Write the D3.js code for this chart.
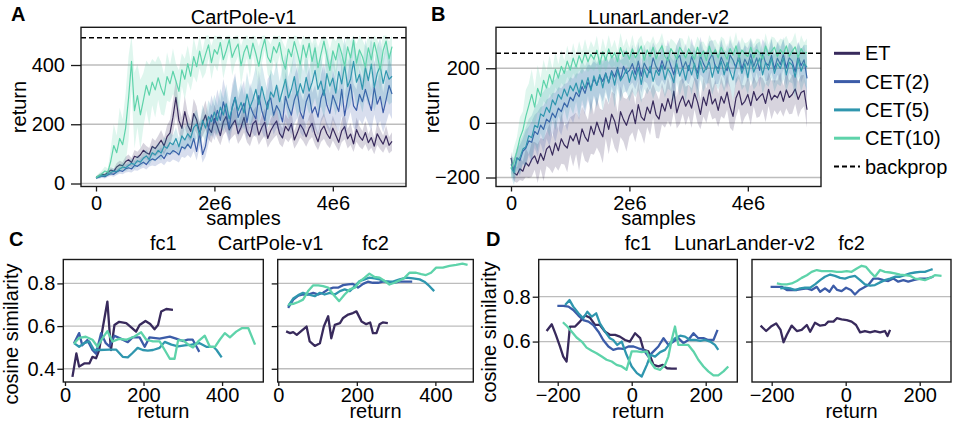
<!DOCTYPE html>
<html>
<head>
<meta charset="utf-8">
<script src="https://cdn.jsdelivr.net/npm/d3@7"></script>
<style>
  body { margin: 0; background: #fff; }
  svg text { font-family: "Liberation Sans", Arial, Helvetica, sans-serif; fill: #000; }
</style>
</head>
<body>
<svg id="fig" width="953" height="421"></svg>
<script>
// ---------- data ----------
const methods = ["ET", "CET(2)", "CET(5)", "CET(10)"];
const sampleStep = 50000; // samples between logged evaluations

// CartPole-v1: mean return per evaluation and spread across seeds
const cartpoleET = [20,26,31,29,38,45,41,56,63,60,74,
 80,71,92,88,97,112,104,99,125,118,
 131,146,127,158,171,224,291,213,186,243,
 197,176,236,215,168,204,231,188,172,219,
 193,162,208,227,181,199,214,168,190,223,
 176,158,201,212,164,189,207,152,178,196,
 211,169,154,193,178,202,147,171,199,183,
 158,187,203,166,141,179,194,168,152,187,
 163,139,178,192,151,167,134,182,159,146,
 172,138,155,126,168,149,133,161,129,142];
const cartpoleCET2 = [18,21,25,23,29,33,31,39,44,41,50,
 53,49,61,58,66,72,64,77,83,79,
 88,96,84,103,99,111,106,97,124,118,
 133,119,152,108,171,98,126,187,232,204,
 247,213,276,238,186,259,291,223,248,271,
 206,264,237,218,297,246,212,275,289,231,
 263,245,208,294,257,231,282,309,241,219,
 276,302,238,259,224,287,316,264,237,298,
 271,243,318,229,286,335,262,247,301,276,
 318,282,247,325,268,294,239,283,331,302];
const cartpoleCET5 = [20,23,27,26,33,37,42,40,49,56,53,
 61,68,64,77,72,85,93,81,104,97,
 112,103,126,119,138,131,152,124,161,147,
 168,154,189,201,163,214,187,226,209,241,
 212,258,231,269,218,253,291,246,274,238,
 302,257,283,318,266,327,284,251,309,292,
 331,276,314,352,289,318,361,297,337,305,
 358,312,341,382,318,346,297,371,329,356,
 305,378,336,399,327,353,412,342,368,318,
 391,347,403,324,372,396,338,381,352,362];
const cartpoleCET10 = [20,27,33,42,38,76,128,104,152,131,187,
 288,412,246,297,232,281,331,298,342,316,
 357,322,298,361,337,379,346,311,384,352,
 405,362,428,394,447,401,436,468,408,452,
 437,476,418,449,486,426,452,471,398,443,
 466,421,474,438,396,451,487,427,409,462,
 441,476,418,386,454,428,479,443,401,467,
 426,473,412,458,391,437,481,429,382,448,
 417,472,438,396,461,424,483,406,451,428,
 393,458,417,476,433,384,449,481,421,462];
const cartpoleETSpread = [4,6,7,6,9,10,9,13,14,13,16,
 18,15,21,19,22,26,23,21,29,26,
 30,35,28,38,44,56,62,45,38,52,
 41,36,50,46,34,44,49,39,35,47,
 42,33,45,51,37,43,47,35,41,50,
 37,32,44,48,34,41,46,31,39,43,
 47,36,32,42,39,45,30,37,44,40,
 34,41,46,36,29,39,43,37,33,42,
 36,30,39,43,33,37,28,41,35,31,
 39,29,34,27,38,33,29,36,28,31];
const cartpoleCET2Spread = [4,5,6,6,7,8,8,10,11,10,13,
 14,12,16,15,17,19,17,20,22,21,
 23,26,22,28,27,30,29,26,34,32,
 37,33,43,30,49,28,36,54,66,58,
 70,61,78,68,53,74,82,64,71,77,
 59,75,68,62,84,70,61,78,82,66,
 75,70,59,83,73,66,80,87,69,62,
 78,85,68,73,64,81,89,75,67,84,
 77,69,90,65,81,94,74,70,85,78,
 90,80,70,92,76,83,68,80,93,85];
const cartpoleCET5Spread = [4,5,6,6,8,9,10,9,11,13,12,
 14,16,15,18,17,20,22,19,25,23,
 27,25,30,29,33,32,37,30,39,36,
 41,38,46,49,40,52,46,55,51,59,
 52,63,57,66,54,62,71,60,67,58,
 74,63,69,78,65,80,70,62,76,72,
 81,68,77,86,71,78,88,73,83,75,
 88,77,84,93,78,85,73,91,81,87,
 75,92,82,97,80,86,100,84,90,78,
 95,85,98,80,91,96,83,93,86,88];
const cartpoleCET10Spread = [5,8,11,15,13,42,72,58,104,86,118,
 142,96,128,106,118,92,84,102,78,93,
 74,88,69,82,63,77,58,71,56,69,
 61,49,66,53,58,47,63,44,57,51,
 59,43,64,48,38,61,46,41,66,52,
 42,63,39,57,67,47,37,59,61,43,
 55,41,62,71,47,59,40,53,64,45,
 61,43,59,47,69,51,39,61,72,49,
 63,41,53,69,47,58,39,65,49,57,
 70,47,61,42,55,72,50,39,58,46];
const cartpoleBackprop = 492;
const cartpoleMaxReturn = 500;

// LunarLander-v2: mean return per evaluation and spread across seeds
const lunarET = [-128,-183,-191,-168,-177,-146,-158,-134,-121,-149,-112,
 -137,-96,-84,-118,-73,-102,-58,-81,-92,-47,
 -66,-38,-79,-22,-51,-68,-12,-43,3,-29,
 -51,18,-24,32,7,-38,41,12,-9,26,
 48,-3,67,22,9,58,34,81,29,14,
 71,43,89,52,116,37,74,98,61,83,
 54,108,77,31,94,63,121,69,88,46,
 97,72,113,58,24,91,117,66,79,104,
 63,115,82,96,107,71,123,84,101,92,
 116,79,121,93,104,124,86,111,118,48];
const lunarCET2 = [-152,-171,-127,-138,-104,-93,-66,-71,-31,-42,-8,
 -24,14,3,36,19,54,41,73,58,94,
 81,112,96,133,108,149,127,162,138,171,
 152,183,147,191,168,203,159,207,181,192,
 217,178,226,171,219,197,183,238,206,187,
 228,196,241,209,176,233,247,198,224,191,
 243,212,182,246,217,196,232,252,207,199,
 241,216,191,248,229,201,251,196,233,211,
 252,207,238,192,256,219,211,247,197,237,
 214,251,201,238,226,187,246,209,231,163];
const lunarCET5 = [-163,-182,-134,-128,-96,-88,-47,-54,-9,-17,33,
 24,57,38,84,66,104,87,124,98,136,
 117,146,108,157,126,166,118,172,137,177,
 128,181,146,187,138,192,154,173,197,148,
 191,157,202,141,197,166,207,152,193,174,
 212,158,198,179,147,217,171,203,157,211,
 176,218,162,226,184,203,222,167,212,181,
 227,176,221,189,157,213,231,181,217,166,
 232,186,213,237,176,222,194,236,181,218,
 199,237,176,222,212,167,232,189,218,203];
const lunarCET10 = [-168,-143,-104,-56,-27,24,63,104,58,126,97,
 156,128,177,143,196,164,207,181,226,193,
 237,204,246,219,256,224,251,233,266,214,
 261,229,271,238,257,224,276,243,262,233,
 271,238,258,281,229,267,243,277,234,262,
 282,243,228,272,254,233,277,259,238,271,
 252,233,277,243,263,228,281,248,268,238,
 277,254,233,272,248,282,238,267,252,243,
 277,238,268,256,233,281,247,263,277,243,
 268,252,282,243,263,278,238,272,253,258];
const lunarETSpread = [22,31,28,41,36,52,44,63,51,71,57,
 77,62,83,66,87,73,92,71,89,68,
 94,77,97,81,88,79,101,74,93,82,
 97,76,91,84,98,74,93,81,96,77,
 82,68,88,64,85,73,79,62,84,71,
 76,61,82,67,73,58,79,65,71,57,
 73,59,77,54,71,63,75,57,69,61,
 73,57,65,76,55,69,63,73,58,67,
 71,55,64,73,57,69,61,71,55,63,
 69,57,67,61,71,55,65,63,57,67];
const lunarCET2Spread = [31,42,36,57,46,67,53,77,61,82,66,
 87,71,89,73,91,76,86,69,88,73,
 81,69,85,67,79,65,83,63,77,61,
 75,59,73,57,71,55,69,63,73,57,
 69,55,71,61,67,53,71,57,65,55,
 69,57,63,53,71,55,65,57,67,51,
 67,55,63,69,53,61,67,51,65,57,
 63,53,67,57,49,65,55,61,51,63,
 57,65,53,61,51,67,55,63,53,61,
 65,53,63,55,57,67,51,61,55,71];
const lunarCET5Spread = [32,46,41,61,52,72,61,81,66,87,71,
 91,76,89,71,93,79,87,73,91,77,
 85,69,89,73,81,67,87,71,83,69,
 85,69,77,65,83,67,75,63,81,69,
 77,63,83,67,73,61,81,65,75,63,
 81,65,73,61,79,67,71,63,81,65,
 73,61,79,67,71,59,77,65,69,61,
 79,63,71,59,77,67,69,61,79,63,
 71,65,77,61,69,79,63,71,67,75,
 65,77,61,71,67,79,63,75,69,81];
const lunarCET10Spread = [32,56,51,77,69,96,81,92,71,86,66,
 76,61,71,54,66,51,61,47,57,45,
 55,43,53,41,51,39,49,43,53,39,
 49,41,51,37,47,39,53,37,47,41,
 51,37,47,39,53,35,49,41,51,37,
 47,39,53,37,45,51,35,49,41,51,
 37,47,39,53,35,49,41,51,37,47,
 39,53,35,49,41,51,37,47,39,53,
 35,49,41,51,37,47,39,53,35,49,
 41,51,37,47,39,53,35,49,41,51];
const lunarBackprop = 255;

// Cosine similarity vs. return: [return, cosine similarity]
const cartpoleFc1ET = [[19,0.362],[29,0.472],[36,0.41],[49,0.425],[62,0.425],[70,0.456],[79,0.449],[87,0.488],[96,0.59],[108,0.715],[117,0.488],[126,0.605],[138,0.62],[156,0.614],[168,0.595],[181,0.574],[190,0.605],[205,0.624],[217,0.61],[228,0.585],[237,0.605],[245,0.668],[258,0.68],[275,0.676]];
const cartpoleFc1CET2 = [[23,0.52],[36,0.567],[44,0.51],[57,0.535],[70,0.488],[79,0.47],[92,0.567],[104,0.52],[113,0.505],[126,0.555],[143,0.54],[160,0.525],[172,0.547],[190,0.547],[203,0.503],[215,0.547],[241,0.541],[267,0.551],[283,0.541],[300,0.53],[313,0.537],[325,0.537],[335,0.503],[342,0.479]];
const cartpoleFc1CET5 = [[23,0.52],[36,0.503],[49,0.52],[62,0.528],[74,0.488],[87,0.488],[113,0.49],[130,0.49],[147,0.456],[160,0.453],[172,0.474],[185,0.498],[198,0.488],[211,0.485],[224,0.488],[241,0.498],[254,0.526],[271,0.513],[288,0.505],[305,0.51],[322,0.513],[343,0.52],[360,0.503],[378,0.503],[386,0.488],[399,0.453]];
const cartpoleFc1CET10 = [[23,0.517],[36,0.545],[53,0.55],[70,0.536],[83,0.503],[96,0.545],[108,0.576],[121,0.528],[138,0.54],[156,0.536],[177,0.551],[194,0.571],[207,0.536],[224,0.528],[241,0.528],[254,0.488],[267,0.447],[279,0.447],[288,0.533],[301,0.533],[314,0.513],[326,0.5],[339,0.528],[356,0.555],[369,0.503],[382,0.503],[394,0.536],[407,0.567],[420,0.547],[436,0.574],[450,0.59],[467,0.59],[484,0.513]];
const cartpoleFc2ET = [[20,0.575],[30,0.567],[38,0.572],[47,0.559],[59,0.578],[72,0.598],[80,0.528],[93,0.507],[106,0.52],[116,0.598],[127,0.646],[135,0.543],[144,0.606],[157,0.614],[165,0.638],[178,0.654],[190,0.661],[199,0.669],[212,0.622],[224,0.609],[234,0.617],[241,0.567],[250,0.567],[258,0.609],[266,0.617],[279,0.614]];
const cartpoleFc2CET2 = [[25,0.685],[38,0.724],[51,0.743],[63,0.748],[76,0.748],[89,0.756],[102,0.748],[114,0.756],[127,0.772],[140,0.78],[152,0.78],[165,0.792],[178,0.795],[190,0.798],[203,0.78],[216,0.798],[228,0.808],[241,0.803],[254,0.803],[266,0.808],[279,0.808],[292,0.803],[309,0.808],[326,0.808],[341,0.808]];
const cartpoleFc2CET5 = [[25,0.693],[38,0.729],[51,0.745],[63,0.756],[76,0.748],[93,0.74],[106,0.756],[118,0.748],[131,0.756],[144,0.748],[157,0.764],[169,0.772],[182,0.764],[195,0.787],[207,0.811],[220,0.819],[232,0.827],[245,0.824],[258,0.819],[275,0.808],[292,0.808],[309,0.819],[326,0.827],[343,0.824],[360,0.819],[372,0.808],[385,0.787],[397,0.764]];
const cartpoleFc2CET10 = [[25,0.701],[38,0.704],[51,0.713],[63,0.724],[76,0.764],[89,0.791],[102,0.791],[114,0.787],[127,0.78],[140,0.748],[155,0.717],[169,0.748],[182,0.772],[195,0.78],[207,0.808],[220,0.827],[232,0.846],[245,0.83],[258,0.827],[271,0.811],[283,0.795],[296,0.803],[309,0.814],[322,0.827],[334,0.85],[351,0.85],[364,0.843],[376,0.839],[389,0.85],[402,0.874],[419,0.874],[436,0.882],[453,0.887],[469,0.893],[482,0.887]];
const lunarFc1ET = [[-230,0.647],[-216,0.677],[-205,0.63],[-194,0.578],[-185,0.533],[-176,0.511],[-167,0.667],[-153,0.667],[-140,0.689],[-126,0.716],[-113,0.707],[-99,0.674],[-86,0.674],[-72,0.644],[-59,0.63],[-45,0.63],[-32,0.622],[-18,0.607],[-5,0.6],[9,0.637],[23,0.615],[32,0.563],[45,0.556],[59,0.496],[72,0.489],[84,0.496],[95,0.481],[108,0.479],[122,0.479]];
const lunarFc1CET2 = [[-201,0.759],[-185,0.759],[-171,0.756],[-158,0.741],[-144,0.716],[-131,0.696],[-117,0.689],[-104,0.674],[-90,0.644],[-77,0.607],[-63,0.578],[-50,0.563],[-36,0.57],[-23,0.567],[-9,0.578],[5,0.578],[18,0.57],[32,0.563],[45,0.533],[59,0.556],[72,0.578],[86,0.615],[99,0.585],[113,0.6],[126,0.615],[140,0.593],[153,0.607],[167,0.637],[180,0.615],[194,0.615],[207,0.607],[221,0.607],[232,0.652]];
const lunarFc1CET5 = [[-180,0.763],[-168,0.785],[-158,0.756],[-144,0.726],[-131,0.704],[-120,0.733],[-108,0.711],[-96,0.726],[-86,0.681],[-72,0.644],[-59,0.615],[-50,0.607],[-39,0.585],[-27,0.6],[-14,0.541],[0,0.489],[14,0.459],[27,0.444],[41,0.496],[51,0.541],[63,0.533],[77,0.553],[90,0.563],[104,0.593],[117,0.615],[131,0.626],[144,0.622],[158,0.607],[171,0.607],[185,0.603],[198,0.607],[212,0.6],[225,0.585],[234,0.563]];
const lunarFc1CET10 = [[-186,0.686],[-174,0.667],[-162,0.644],[-149,0.618],[-135,0.6],[-122,0.573],[-108,0.559],[-95,0.548],[-81,0.533],[-68,0.519],[-54,0.511],[-41,0.496],[-27,0.489],[-14,0.474],[0,0.556],[14,0.556],[27,0.553],[41,0.556],[50,0.511],[63,0.481],[77,0.474],[90,0.496],[99,0.533],[108,0.607],[117,0.667],[126,0.585],[140,0.585],[153,0.585],[167,0.556],[180,0.519],[194,0.489],[207,0.467],[221,0.449],[234,0.449],[248,0.467],[261,0.489]];
const lunarFc2ET = [[-230,0.671],[-215,0.647],[-202,0.667],[-188,0.681],[-176,0.652],[-168,0.597],[-159,0.63],[-146,0.671],[-132,0.647],[-119,0.652],[-105,0.674],[-96,0.644],[-83,0.684],[-69,0.671],[-56,0.674],[-47,0.689],[-33,0.689],[-24,0.704],[-11,0.699],[3,0.696],[16,0.689],[28,0.674],[39,0.641],[52,0.647],[66,0.641],[79,0.647],[93,0.641],[106,0.647],[113,0.625],[120,0.652]];
const lunarFc2CET2 = [[-203,0.844],[-186,0.844],[-173,0.844],[-159,0.83],[-146,0.83],[-132,0.83],[-119,0.834],[-105,0.837],[-92,0.83],[-78,0.844],[-69,0.822],[-56,0.837],[-44,0.822],[-33,0.849],[-23,0.83],[-11,0.825],[1,0.84],[14,0.83],[25,0.81],[37,0.83],[48,0.84],[61,0.852],[75,0.881],[88,0.881],[102,0.874],[115,0.87],[129,0.881],[142,0.867],[156,0.874],[169,0.867],[183,0.874],[201,0.881],[219,0.881],[237,0.889]];
const lunarFc2CET5 = [[-177,0.837],[-164,0.84],[-150,0.837],[-137,0.83],[-123,0.837],[-110,0.84],[-96,0.84],[-83,0.855],[-69,0.874],[-56,0.889],[-42,0.899],[-29,0.893],[-15,0.884],[-2,0.881],[12,0.889],[25,0.893],[39,0.874],[52,0.855],[66,0.849],[79,0.852],[93,0.864],[106,0.874],[120,0.881],[133,0.889],[147,0.889],[160,0.896],[174,0.904],[187,0.908],[201,0.911],[214,0.911],[228,0.919],[235,0.923]];
const lunarFc2CET10 = [[-186,0.859],[-173,0.855],[-159,0.855],[-146,0.859],[-132,0.87],[-119,0.884],[-105,0.896],[-92,0.911],[-78,0.919],[-65,0.914],[-51,0.914],[-38,0.914],[-24,0.911],[-11,0.911],[3,0.914],[16,0.911],[30,0.926],[43,0.938],[55,0.933],[66,0.911],[79,0.889],[93,0.919],[106,0.911],[120,0.908],[133,0.904],[147,0.899],[160,0.896],[174,0.893],[187,0.881],[201,0.878],[214,0.874],[228,0.884],[241,0.896],[259,0.893]];

// Tick values and labels
const sampleTicks = [0, 2e6, 4e6];
const sampleTickLabels = ["0", "2e6", "4e6"];
const cartpoleReturnTicks = [0, 200, 400];
const lunarReturnTicks = [-200, 0, 200];
const cartpoleSimTicks = [0.4, 0.6, 0.8];
const lunarSimTicks = [0.6, 0.8];

// ---------- style ----------
const methodColors = ["#382a5c", "#3c5ca8", "#2f96ae", "#5ed3aa"];
const FONT = 20;
const gridColor = "#bdbdbd";
const svg = d3.select("#fig");

let clipCount = 0;
function frame(g, box) {
  g.append("rect").attr("x", box.x0).attr("y", box.y0)
    .attr("width", box.x1 - box.x0).attr("height", box.y1 - box.y0)
    .attr("fill", "none").attr("stroke", "#1a1a1a").attr("stroke-width", 1.4);
}
function clip(g, box) {
  const id = "clip" + (clipCount++);
  svg.append("clipPath").attr("id", id).append("rect")
    .attr("x", box.x0).attr("y", box.y0).attr("width", box.x1 - box.x0).attr("height", box.y1 - box.y0);
  return g.append("g").attr("clip-path", `url(#${id})`);
}
function grid(g, y, ticks, box) {
  g.selectAll(null).data(ticks).join("line")
    .attr("x1", box.x0).attr("x2", box.x1)
    .attr("y1", d => y(d)).attr("y2", d => y(d))
    .attr("stroke", gridColor).attr("stroke-width", 1.3);
}
function styleAxis(sel) {
  sel.select(".domain").remove();
  sel.attr("font-size", FONT).attr("font-family", '"Liberation Sans", Arial, Helvetica, sans-serif');
  sel.selectAll(".tick line").attr("stroke", "#1a1a1a").attr("stroke-width", 1.3);
}
function addText(txt, x, y, opts = {}) {
  const t = svg.append("text").attr("x", x).attr("y", y).text(txt)
    .attr("font-size", opts.size || FONT)
    .attr("text-anchor", opts.anchor || "middle");
  if (opts.bold) t.attr("font-weight", "bold");
  if (opts.rotate) t.attr("transform", `rotate(-90,${x},${y})`);
  return t;
}

// ---------- training curves (A, B) ----------
function trainingPanel(box, means, spreads, backprop, yTicks, cap) {
  const g = svg.append("g");
  const x = d3.scaleLinear().domain(box.xd).range([box.x0, box.x1]);
  const y = d3.scaleLinear().domain(box.yd).range([box.y1, box.y0]);
  grid(g, y, yTicks, box);
  const inner = clip(g, box);
  means.forEach((vals, k) => {
    const pts = vals.map((m, i) => ({ s: i * sampleStep, m, sp: spreads[k][i] }));
    const hi = d => cap ? Math.min(cap, d.m + d.sp) : d.m + d.sp;
    inner.append("path").datum(pts)
      .attr("d", d3.area().x(d => x(d.s)).y0(d => y(d.m - d.sp)).y1(d => y(hi(d))))
      .attr("fill", methodColors[k]).attr("fill-opacity", 0.2);
    inner.append("path").datum(pts)
      .attr("d", d3.line().x(d => x(d.s)).y(d => y(d.m)))
      .attr("fill", "none").attr("stroke", methodColors[k])
      .attr("stroke-width", 1.2).attr("stroke-linejoin", "round");
  });
  inner.append("line").attr("x1", box.x0).attr("x2", box.x1)
    .attr("y1", y(backprop)).attr("y2", y(backprop))
    .attr("stroke", "#000").attr("stroke-width", 1.5).attr("stroke-dasharray", "5,3");
  frame(g, box);
  g.append("g").attr("transform", `translate(${box.x0},0)`)
    .call(d3.axisLeft(y).tickValues(yTicks).tickSize(10).tickPadding(6).tickFormat(d3.format("d")))
    .call(styleAxis);
  g.append("g").attr("transform", `translate(0,${box.y1})`)
    .call(d3.axisBottom(x).tickValues(sampleTicks).tickSize(5).tickPadding(4)
      .tickFormat((d, i) => sampleTickLabels[i]))
    .call(styleAxis);
}

const boxA = { x0: 81, x1: 406, y0: 27.3, y1: 186.5, xd: [-0.2534e6, 5.236e6], yd: [-10.1, 527.3] };
const boxB = { x0: 496, x1: 821, y0: 27.3, y1: 186.5, xd: [-0.2534e6, 5.236e6], yd: [-232.9, 349.9] };

trainingPanel(boxA, [cartpoleET, cartpoleCET2, cartpoleCET5, cartpoleCET10],
  [cartpoleETSpread, cartpoleCET2Spread, cartpoleCET5Spread, cartpoleCET10Spread],
  cartpoleBackprop, cartpoleReturnTicks, cartpoleMaxReturn);
trainingPanel(boxB, [lunarET, lunarCET2, lunarCET5, lunarCET10],
  [lunarETSpread, lunarCET2Spread, lunarCET5Spread, lunarCET10Spread],
  lunarBackprop, lunarReturnTicks, null);

addText("A", 11, 21, { anchor: "start", bold: true, size: 20 });
addText("B", 431, 21, { anchor: "start", bold: true, size: 20 });
addText("CartPole-v1", (boxA.x0 + boxA.x1) / 2, 24);
addText("LunarLander-v2", (boxB.x0 + boxB.x1) / 2, 24);
addText("return", 25.5, 107, { rotate: true });
addText("return", 439, 107, { rotate: true });
addText("samples", (boxA.x0 + boxA.x1) / 2, 225);
addText("samples", (boxB.x0 + boxB.x1) / 2, 225);

// legend
const legendRows = methods.concat(["backprop"]);
legendRows.forEach((name, i) => {
  const cy = 53.3 + i * 28.3;
  const ln = svg.append("line").attr("x1", 834).attr("x2", 860).attr("y1", cy).attr("y2", cy)
    .attr("stroke-width", i < 4 ? 3 : 2.2);
  if (i < 4) ln.attr("stroke", methodColors[i]);
  else ln.attr("stroke", "#000").attr("stroke-dasharray", "5,3");
  addText(name, 865, cy + 7, { anchor: "start" });
});

// ---------- cosine similarity (C, D) ----------
function simPanel(box, series, yTicks, retTicks, showLabels) {
  const g = svg.append("g");
  const x = d3.scaleLinear().domain(box.xd).range([box.x0, box.x1]);
  const y = d3.scaleLinear().domain(box.yd).range([box.y1, box.y0]);
  grid(g, y, yTicks, box);
  const inner = clip(g, box);
  series.forEach((pts, k) => {
    inner.append("path").datum(pts)
      .attr("d", d3.line().x(d => x(d[0])).y(d => y(d[1])))
      .attr("fill", "none").attr("stroke", methodColors[k])
      .attr("stroke-width", 2.3).attr("stroke-linejoin", "round");
  });
  frame(g, box);
  g.append("g").attr("transform", `translate(${box.x0},0)`)
    .call(d3.axisLeft(y).tickValues(yTicks).tickSize(6).tickPadding(2)
      .tickFormat(showLabels ? d3.format(".1f") : () => ""))
    .call(styleAxis);
  g.append("g").attr("transform", `translate(0,${box.y1})`)
    .call(d3.axisBottom(x).tickValues(retTicks).tickSize(4).tickPadding(2).tickFormat(d3.format("d")))
    .call(styleAxis);
}

const boxC1 = { x0: 63.3, x1: 263.3, y0: 259.5, y1: 382, xd: [-4.3, 505], yd: [0.338, 0.912] };
const boxC2 = { x0: 277.7, x1: 473.3, y0: 259.5, y1: 382, xd: [-1.5, 496.6], yd: [0.338, 0.912] };
const boxD1 = { x0: 538.7, x1: 737.3, y0: 259.5, y1: 382, xd: [-251.4, 285.4], yd: [0.4196, 0.966] };
const boxD2 = { x0: 752, x1: 951, y0: 259.5, y1: 382, xd: [-253.2, 284.6], yd: [0.4196, 0.966] };

simPanel(boxC1, [cartpoleFc1ET, cartpoleFc1CET2, cartpoleFc1CET5, cartpoleFc1CET10], cartpoleSimTicks, cartpoleReturnTicks, true);
simPanel(boxC2, [cartpoleFc2ET, cartpoleFc2CET2, cartpoleFc2CET5, cartpoleFc2CET10], cartpoleSimTicks, cartpoleReturnTicks, false);
simPanel(boxD1, [lunarFc1ET, lunarFc1CET2, lunarFc1CET5, lunarFc1CET10], lunarSimTicks, lunarReturnTicks, true);
simPanel(boxD2, [lunarFc2ET, lunarFc2CET2, lunarFc2CET5, lunarFc2CET10], lunarSimTicks, lunarReturnTicks, false);

addText("C", 9, 246, { anchor: "start", bold: true, size: 20 });
addText("D", 486, 246, { anchor: "start", bold: true, size: 20 });
addText("fc1", (boxC1.x0 + boxC1.x1) / 2, 250);
addText("CartPole-v1", (boxC1.x1 + boxC2.x0) / 2, 250);
addText("fc2", (boxC2.x0 + boxC2.x1) / 2, 250);
addText("fc1", (boxD1.x0 + boxD1.x1) / 2, 250);
addText("LunarLander-v2", (boxD1.x1 + boxD2.x0) / 2, 250);
addText("fc2", (boxD2.x0 + boxD2.x1) / 2, 250);
addText("cosine similarity", 17.5, 334, { rotate: true });
addText("cosine similarity", 495.5, 332, { rotate: true });
addText("return", (boxC1.x0 + boxC1.x1) / 2, 418);
addText("return", (boxC2.x0 + boxC2.x1) / 2, 418);
addText("return", (boxD1.x0 + boxD1.x1) / 2, 418);
addText("return", (boxD2.x0 + boxD2.x1) / 2, 418);
</script>
</body>
</html>
